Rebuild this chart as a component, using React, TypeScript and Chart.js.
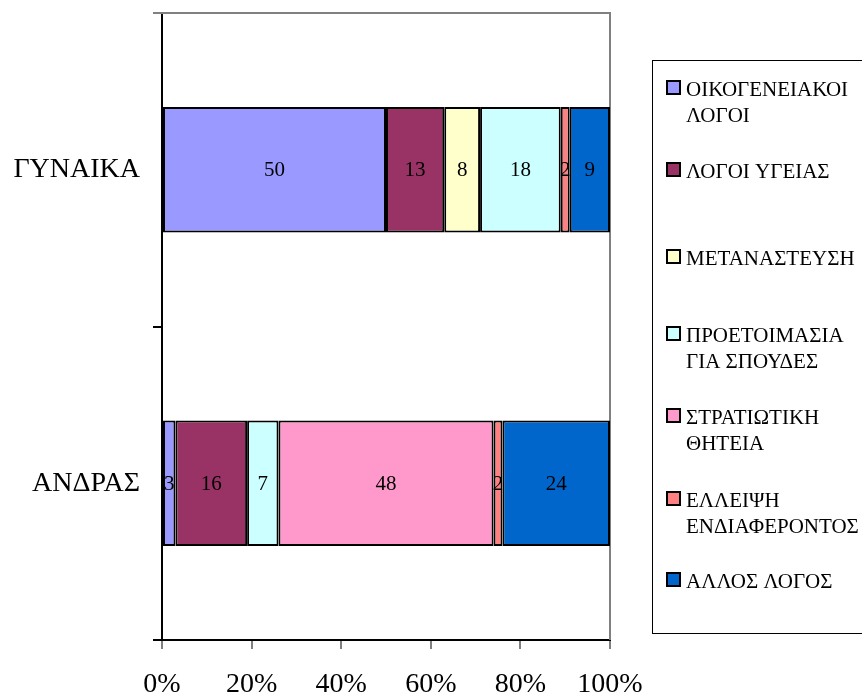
import React, { useEffect, useRef } from "react";
import { Chart, registerables } from "chart.js";

Chart.register(...registerables);

const categories = ["ΓΥΝΑΙΚΑ", "ΑΝΔΡΑΣ"];
const seriesNames = [
  ["ΟΙΚΟΓΕΝΕΙΑΚΟΙ", "ΛΟΓΟΙ"],
  ["ΛΟΓΟΙ ΥΓΕΙΑΣ"],
  ["ΜΕΤΑΝΑΣΤΕΥΣΗ"],
  ["ΠΡΟΕΤΟΙΜΑΣΙΑ", "ΓΙΑ ΣΠΟΥΔΕΣ"],
  ["ΣΤΡΑΤΙΩΤΙΚΗ", "ΘΗΤΕΙΑ"],
  ["ΕΛΛΕΙΨΗ", "ΕΝΔΙΑΦΕΡΟΝΤΟΣ"],
  ["ΑΛΛΟΣ ΛΟΓΟΣ"],
];
const oikogeneiakoi = [50, 3];
const ygeias = [13, 16];
const metanasteysi = [8, 0];
const spoudes = [18, 7];
const thiteia = [0, 48];
const endiaferon = [2, 2];
const allos = [9, 24];
const seriesValues = [oikogeneiakoi, ygeias, metanasteysi, spoudes, thiteia, endiaferon, allos];
const seriesColors = ["#9999FF", "#993366", "#FFFFCC", "#CCFFFF", "#FF99CC", "#FF8080", "#0066CC"];
const xTicks = [0, 20, 40, 60, 80, 100];

const FONT = "'Liberation Serif', 'Times New Roman', serif";

export default function App() {
  const ref = useRef<HTMLCanvasElement | null>(null);

  useEffect(() => {
    document.body.style.margin = "0";
    const canvas = ref.current;
    if (!canvas) return;

    const borderPlugin = {
      id: "plotBorder",
      beforeDatasetsDraw(chart: any) {
        const { ctx, chartArea } = chart;
        ctx.save();
        ctx.strokeStyle = "#808080";
        ctx.lineWidth = 2;
        ctx.beginPath();
        ctx.moveTo(chartArea.left - 9, chartArea.top);
        ctx.lineTo(chartArea.right, chartArea.top);
        ctx.lineTo(chartArea.right, chartArea.bottom);
        ctx.stroke();
        ctx.restore();
      },
    };

    const labelPlugin = {
      id: "segLabels",
      afterDatasetsDraw(chart: any) {
        const { ctx } = chart;
        ctx.save();
        ctx.font = `21px ${FONT}`;
        ctx.fillStyle = "#000";
        ctx.textAlign = "center";
        ctx.textBaseline = "middle";
        chart.data.datasets.forEach((ds: any, i: number) => {
          const meta = chart.getDatasetMeta(i);
          meta.data.forEach((el: any, j: number) => {
            const v = ds.data[j];
            if (!v) return;
            ctx.fillText(String(v), (el.x + el.base) / 2, el.y + 1);
          });
        });
        ctx.restore();
      },
    };

    const legendRows = [89, 171, 258, 335, 417, 500, 581];
    const legendPlugin = {
      id: "boxLegend",
      afterDraw(chart: any) {
        const { ctx } = chart;
        ctx.save();
        ctx.strokeStyle = "#000";
        ctx.lineWidth = 1;
        ctx.strokeRect(652.5, 60.5, 240, 573);
        ctx.font = `21px ${FONT}`;
        ctx.textAlign = "left";
        ctx.textBaseline = "middle";
        seriesNames.forEach((lines, i) => {
          const y = legendRows[i];
          ctx.fillStyle = seriesColors[i];
          ctx.fillRect(667, y - 8, 13, 13);
          ctx.strokeStyle = "#000";
          ctx.lineWidth = 2;
          ctx.strokeRect(667, y - 8, 13, 13);
          ctx.fillStyle = "#000";
          lines.forEach((t, k) => ctx.fillText(t, 686, y + 1 + k * 26));
        });
        ctx.restore();
      },
    };

    const chart = new Chart(canvas, {
      type: "bar",
      data: {
        labels: categories,
        datasets: seriesValues.map((vals, i) => ({
          label: seriesNames[i].join(" "),
          data: vals,
          backgroundColor: seriesColors[i],
          borderColor: "#000",
          borderWidth: 2,
          borderSkipped: false,
          barPercentage: 0.4,
          categoryPercentage: 1.0,
        })),
      },
      options: {
        indexAxis: "y",
        animation: false,
        responsive: false,
        maintainAspectRatio: false,
        layout: { padding: { top: 13, right: 252, left: 0, bottom: 0 } },
        plugins: { legend: { display: false }, tooltip: { enabled: false } },
        scales: {
          x: {
            stacked: true,
            min: 0,
            max: 100,
            afterBuildTicks: (scale: any) => {
              scale.ticks = xTicks.map((v) => ({ value: v }));
            },
            afterFit: (scale: any) => {
              scale.height = 55;
              scale.paddingLeft = 0;
              scale.paddingRight = 0;
            },
            ticks: {
              callback: (v: any) => `${v}%`,
              font: { family: FONT, size: 28 },
              color: "#000",
              padding: 19,
              maxRotation: 0,
            },
            grid: { drawOnChartArea: false, drawTicks: true, tickLength: 9, color: "#808080", lineWidth: 2 },
            border: { display: true, color: "#000", width: 2 },
          },
          y: {
            stacked: true,
            afterFit: (scale: any) => {
              scale.width = 162;
              scale.paddingTop = 0;
              scale.paddingBottom = 0;
            },
            ticks: {
              font: { family: FONT, size: 28 },
              color: "#000",
              padding: 13,
            },
            grid: { offset: true, drawOnChartArea: false, drawTicks: true, tickLength: 9, color: "#000", lineWidth: 2 },
            border: { display: true, color: "#000", width: 2 },
          },
        },
      },
      plugins: [borderPlugin, labelPlugin, legendPlugin],
    });

    return () => chart.destroy();
  }, []);

  return (
    <div style={{ width: 862, height: 695 }}>
      <canvas ref={ref} width={862} height={695} style={{ display: "block" }} />
    </div>
  );
}
